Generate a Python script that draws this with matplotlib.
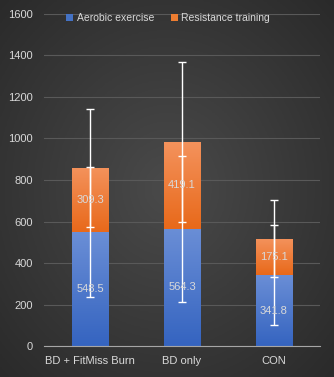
import numpy as np
from matplotlib import pyplot as plt
from matplotlib.colors import LinearSegmentedColormap

groups = ["BD + FitMiss Burn", "BD only", "CON"]
aerobic = [548.5, 564.3, 341.8]
resistance = [309.3, 419.1, 175.1]
aerobic_sd = [312, 352, 242]
resistance_sd = [285, 386, 186]

plt.rcParams['font.family'] = ['Liberation Sans', 'DejaVu Sans']
txt = '#d9d9d9'

fig = plt.figure(figsize=(3.34, 3.77), dpi=100)

# radial dark background
bg = fig.add_axes([0, 0, 1, 1], zorder=-10)
yy, xx = np.mgrid[0:1:200j, 0:1:200j]
r = np.sqrt(((xx - 0.5) / 0.75) ** 2 + ((yy - 0.5) / 0.75) ** 2)
bg_cmap = LinearSegmentedColormap.from_list('bg', ['#4a4a4a', '#2a2a2a'])
bg.imshow(r, cmap=bg_cmap, extent=[0, 1, 0, 1], aspect='auto', vmin=0, vmax=0.95)
bg.axis('off')

ax = fig.add_axes([0.1317, 0.0822, 0.8263, 0.8807])
ax.patch.set_alpha(0)
x = np.arange(len(groups))
w = 0.4

b1 = ax.bar(x, aerobic, w, color='#4472c4', label='Aerobic exercise', zorder=2)
b2 = ax.bar(x, resistance, w, bottom=aerobic, color='#ed7d31', label='Resistance training', zorder=2)

# vertical gradients inside bars
grad = np.linspace(1, 0, 100).reshape(-1, 1)
blue = LinearSegmentedColormap.from_list('b', ['#3564c0', '#6a8ed6'])
orange = LinearSegmentedColormap.from_list('o', ['#e8691a', '#f4925c'])
for bars, cm in ((b1, blue), (b2, orange)):
    for p in bars:
        x0, y0 = p.get_x(), p.get_y()
        im = ax.imshow(grad, cmap=cm, aspect='auto', zorder=2.1,
                       extent=[x0, x0 + p.get_width(), y0, y0 + p.get_height()])
        im.set_clip_path(p)

tops = np.array(aerobic) + np.array(resistance)
ax.errorbar(x, aerobic, yerr=aerobic_sd, fmt='none', ecolor='white', elinewidth=1,
            capsize=3, capthick=1, zorder=4)
ax.errorbar(x, tops, yerr=resistance_sd, fmt='none', ecolor='white', elinewidth=1,
            capsize=3, capthick=1, zorder=4)

for i in range(len(groups)):
    ax.text(x[i], aerobic[i] / 2, f"{aerobic[i]:.1f}", ha='center', va='center',
            color=txt, fontsize=8, zorder=5)
    ax.text(x[i], aerobic[i] + resistance[i] / 2, f"{resistance[i]:.1f}", ha='center',
            va='center', color=txt, fontsize=8, zorder=5)

ax.set_xlim(-0.5, 2.5)
ax.set_ylim(0, 1600)
ax.set_yticks(range(0, 1601, 200))
ax.set_xticks(x)
ax.set_xticklabels(groups)
ax.grid(axis='y', color='#595959', linewidth=0.8, zorder=0)
ax.set_axisbelow(True)
for s in ['top', 'right', 'left']:
    ax.spines[s].set_visible(False)
ax.spines['bottom'].set_color('#a6a6a6')
ax.spines['bottom'].set_linewidth(0.8)
ax.spines['bottom'].set_zorder(3)
ax.tick_params(length=0, colors=txt, labelsize=8)
ax.tick_params(axis='y', pad=8)
ax.tick_params(axis='x', pad=7)

leg = ax.legend(loc='upper center', bbox_to_anchor=(0.45, 1.03), ncol=2, frameon=False,
                fontsize=7.5, labelcolor=txt, handlelength=0.65, handleheight=0.65,
                handletextpad=0.35, columnspacing=1.6)

fig.savefig('out.png', dpi=100)
